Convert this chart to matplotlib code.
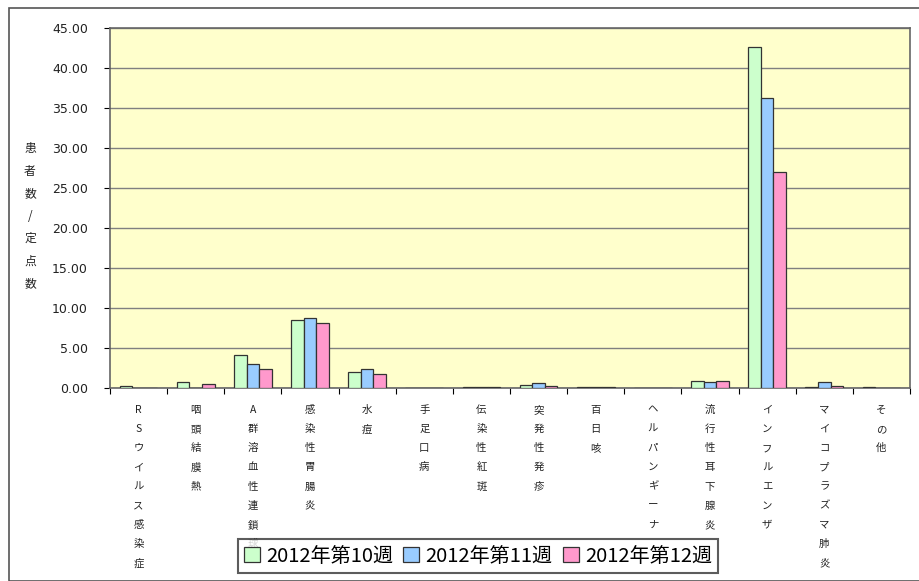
#!/usr/bin/env python3
import matplotlib
matplotlib.use('Agg')
import matplotlib.pyplot as plt
import numpy as np

plt.rcParams['font.family'] = ['Noto Sans CJK JP', 'DejaVu Sans']

# the third label is hidden under the legend after "球" in the original
diseases = ["RSウイルス感染症", "咽頭結膜熱", "A群溶血性連鎖球", "感染性胃腸炎", "水痘",
            "手足口病", "伝染性紅斑", "突発性発疹", "百日咳", "ヘルパンギーナ",
            "流行性耳下腺炎", "インフルエンザ", "マイコプラズマ肺炎", "その他"]
week10 = [0.3, 0.7, 4.1, 8.5, 2.0, 0.0, 0.1, 0.4, 0.1, 0.0, 0.9, 42.6, 0.1, 0.1]
week11 = [0.0, 0.0, 3.0, 8.8, 2.4, 0.0, 0.1, 0.6, 0.1, 0.0, 0.7, 36.2, 0.7, 0.0]
week12 = [0.0, 0.5, 2.4, 8.1, 1.7, 0.0, 0.1, 0.3, 0.1, 0.0, 0.9, 27.0, 0.2, 0.0]
series_names = ["2012年第10週", "2012年第11週", "2012年第12週"]
colors = ["#ccffcc", "#99ccff", "#ff99cc"]
yticks = np.arange(0, 46, 5)


def Main():
	fig = plt.figure(figsize=(9.2, 5.81), dpi=100)
	# outer frame of the chart area
	fig.patches.append(plt.Rectangle((9/920, 0), 1, 1 - 8/581, transform=fig.transFigure,
	                                 fill=False, edgecolor='#555555', linewidth=1.2))
	ax = fig.add_axes([110/920, 193/581, 800/920, 360/581])
	ax.set_facecolor('#ffffcc')

	x = np.arange(len(diseases))
	w = 0.22
	for i, vals in enumerate([week10, week11, week12]):
		ax.bar(x + (i - 1)*w, vals, w, color=colors[i], edgecolor='#333333',
		       linewidth=0.9, label=series_names[i], zorder=3)

	ax.set_xlim(-0.5, len(diseases) - 0.5)
	ax.set_ylim(0, 45)
	ax.set_yticks(yticks)
	ax.set_yticklabels(["{0:.2f}".format(v) for v in yticks], fontsize=9,
	                   family='DejaVu Sans', color='#222222')
	ax.yaxis.grid(True, color='#808080', linewidth=1.0, zorder=0)
	ax.set_axisbelow(True)
	ax.tick_params(axis='y', length=4, width=0.8, pad=12)

	ax.set_xticks(x)
	ax.set_xticklabels(["\n".join(d) for d in diseases], fontsize=7.5, va='top',
	                   linespacing=2.15, color='#222222')
	ax.tick_params(axis='x', length=0, pad=12)
	ax.set_xticks(np.arange(len(diseases) + 1) - 0.5, minor=True)
	ax.tick_params(axis='x', which='minor', length=4, width=0.8)

	for s in ax.spines.values():
		s.set_color('#666666')
		s.set_linewidth(1.2)

	fig.text(30/920, 1 - 216/581, "\n".join("患者数/定点数"), fontsize=8.5, ha='center',
	         va='center', linespacing=1.95, color='#222222')

	leg = fig.legend(loc='center', bbox_to_anchor=(478/920, 1 - 556/581), ncol=3,
	                 fontsize=14.5, frameon=True, fancybox=False, edgecolor='#333333',
	                 handlelength=0.8, handleheight=0.8, handletextpad=0.3,
	                 columnspacing=0.5, borderpad=0.3, borderaxespad=0)
	leg.get_frame().set_linewidth(1.5)
	leg.set_zorder(10)

	plt.savefig("out.png", dpi=100)
	plt.close()
	return(0)


if __name__ == '__main__':
	Main()
